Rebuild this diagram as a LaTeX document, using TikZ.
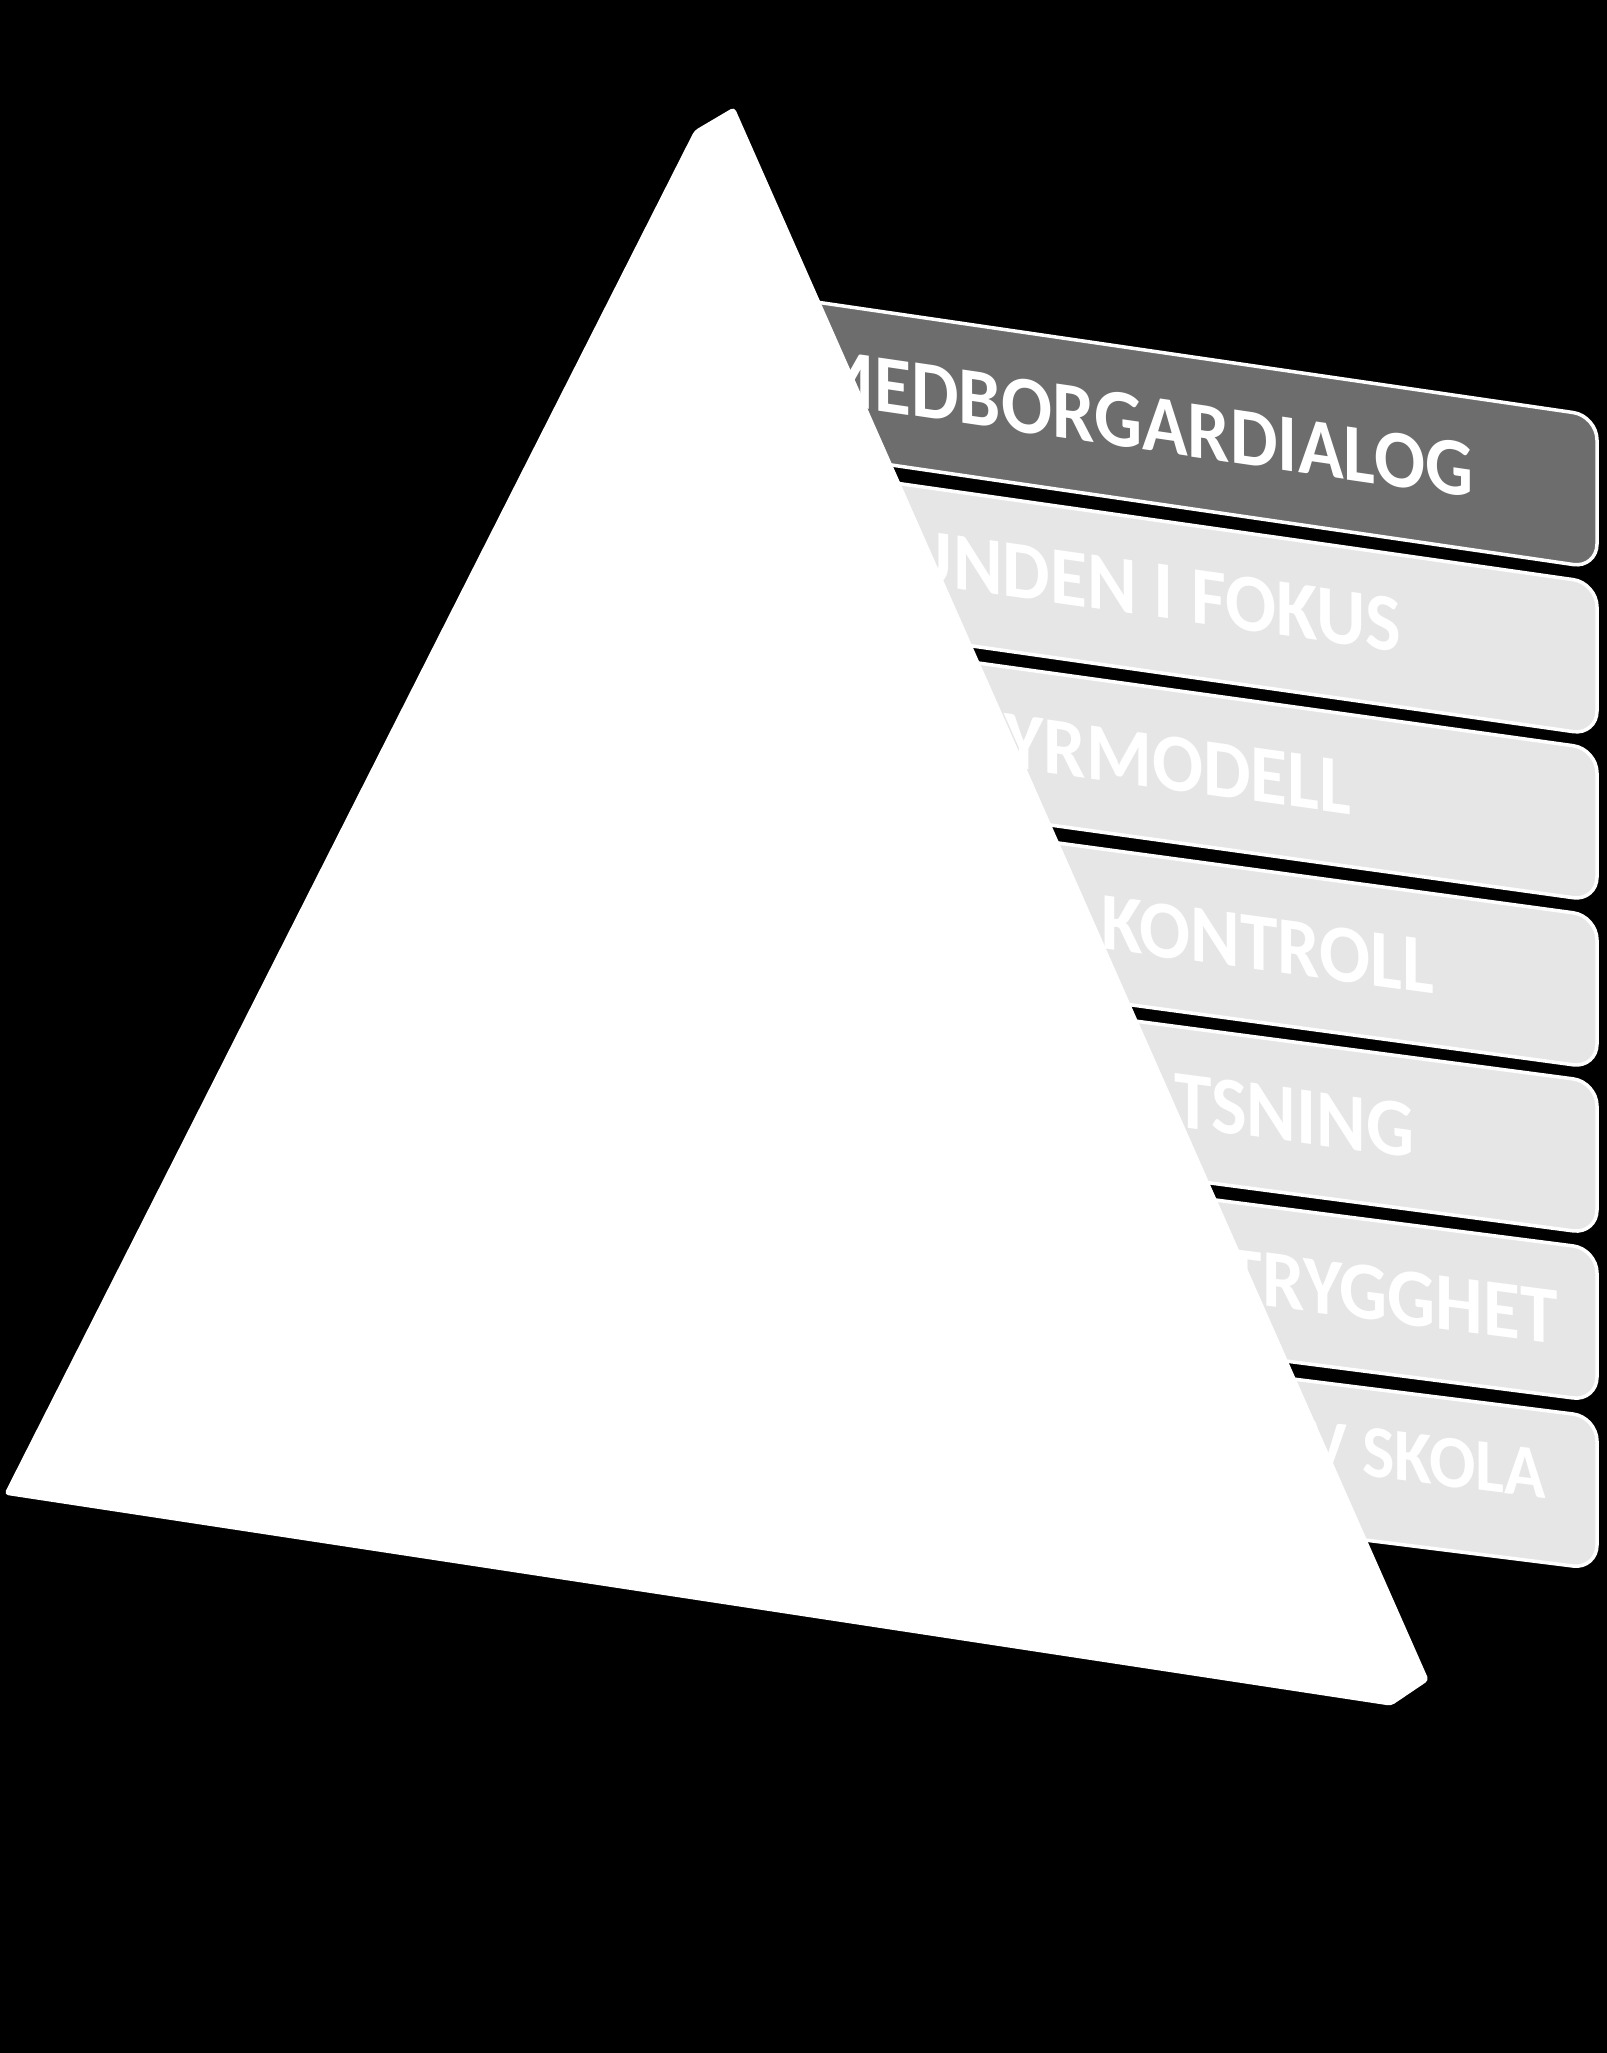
\documentclass[tikz,border=0pt]{standalone}
\usepackage{fontspec}
\setmainfont{Carlito}
\usepackage{tikz}
\definecolor{bandgray}{HTML}{E6E6E6}
\definecolor{banddark}{HTML}{6D6D6D}
\tikzset{bandtext/.style={text=white, inner sep=0pt, anchor=base east, transform shape, xscale=0.975, yscale=1.06, font=\bfseries\fontsize{22}{22}\selectfont}}
\def\band[#1](#2:#3:#4:#5)#6#7{\begin{scope}[cm={1,-#3,0,1,(1597,#2)}]
	\draw[#1, draw=white, line width=1pt, rounded corners=0.24cm] (-900,0) rectangle (0,152);
	\node[bandtext] (#6) at (#4,#5) {#7};
\end{scope}}

\begin{document}
\begin{tikzpicture}[x=0.01cm, y=-0.01cm]
		%%%%% START %%%%%
		\useasboundingbox (0,0) rectangle (1607,2053);
		\draw[fill=black] (0,0) rectangle (1607,2053);
		
		\band[fill=banddark](416:0.146:-123:100){medborg}{MEDBORGARDIALOG}
		\band[fill=bandgray](583:0.1425:-195:97){kunden}{UNDEN I FOKUS}
		\band[fill=bandgray](749:0.139:-245:100){styr}{YRMODELL}
		\band[fill=bandgray](916:0.1355:-162:100){kontroll}{KONTROLL}
		\band[fill=bandgray](1082:0.132:-182:100){satsning}{TSNING}
		\band[fill=bandgray](1249:0.1285:-39:100){trygghet}{TRYGGHET}
		\band[fill=bandgray](1417:0.125:-50:88){skola}{\fontsize{20}{20}\selectfont V SKOLA}
		
		\draw[fill=white, draw=white, rounded corners=1pt] (695,131) -- (734,108) -- (1428,1680) -- (1391,1705) -- (5,1494) -- cycle;
		%%%%% END %%%%%
	\end{tikzpicture}
\end{document}
